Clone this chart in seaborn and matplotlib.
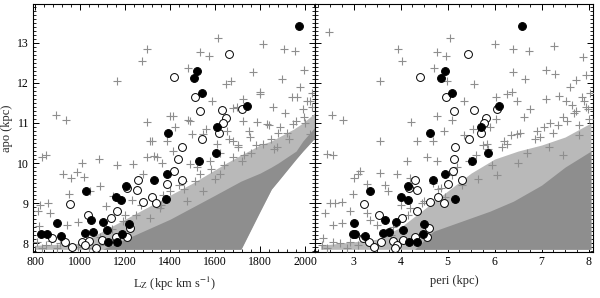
import matplotlib
matplotlib.use('Agg')

import numpy as np
import pandas as pd
import matplotlib.pyplot as plt
import seaborn as sns
from matplotlib.ticker import MultipleLocator

# stars: apo (kpc), Lz (kpc km/s), peri (kpc)
filled_apo = [13.42, 12.29, 12.11, 11.74, 11.43, 10.89, 10.76, 10.25, 10.05, 9.73,
              9.59, 9.44, 9.30, 9.15, 9.09, 9.10, 8.50, 8.57, 8.54, 8.49,
              8.24, 8.24, 8.18, 8.26, 8.28, 8.34, 8.23, 8.02, 8.04]
filled_lz = [1973, 1518, 1508, 1541, 1741, 1610, 1390, 1604, 1530, 1385,
             1329, 1204, 1027, 1160, 1181, 1380, 899, 1047, 1101, 1218,
             827, 855, 914, 1022, 1056, 1118, 1185, 1126, 1163]
filled_peri = [6.58, 4.94, 4.86, 5.09, 6.10, 5.71, 4.63, 5.87, 5.53, 4.95,
               4.68, 4.15, 3.36, 4.01, 4.16, 5.15, 3.01, 3.67, 3.90, 4.49,
               2.99, 3.03, 3.25, 3.62, 3.76, 4.06, 4.47, 4.17, 4.35]

open_apo = [12.73, 12.15, 11.66, 11.31, 11.33, 11.12, 11.00, 11.35, 10.75, 10.59,
            10.39, 10.10, 9.80, 9.59, 9.48, 9.59, 9.34, 9.38, 9.02, 9.15,
            9.00, 8.98, 8.81, 8.71, 8.63, 8.39, 8.13, 8.04, 7.91, 8.04,
            8.06, 7.96, 7.89, 8.08, 8.16, 8.16]
open_lz = [1662, 1418, 1511, 1533, 1632, 1647, 1634, 1718, 1619, 1544,
           1454, 1437, 1418, 1452, 1388, 1259, 1252, 1207, 1281, 1321,
           1336, 956, 1166, 1034, 1138, 1224, 876, 933, 965, 1010,
           1041, 1022, 1071, 1096, 1160, 1207]
open_peri = [5.43, 4.42, 4.97, 5.13, 5.57, 5.82, 5.77, 6.06, 5.72, 5.45,
             5.15, 5.13, 5.11, 5.31, 5.01, 4.31, 4.35, 4.17, 4.63, 4.79,
             4.93, 3.23, 4.35, 3.55, 4.03, 4.60, 3.20, 3.32, 3.43, 3.59,
             3.84, 3.92, 3.88, 4.05, 4.30, 4.56]

# background sample, sparse part (left panel)
bg_lz = [892, 936, 1166, 1277, 1299, 1615, 1533, 1575, 1479, 1815,
         1908, 1953, 1997, 1770, 1896, 1670, 1648, 1585, 1726, 1800,
         1412, 1296, 1481, 1681, 1318, 1385, 1496, 1978, 1859, 1963,
         849, 830, 926, 988, 959, 1018, 1084, 1163, 1296, 1329,
         1363, 1007, 1089, 1044, 952, 859, 822, 815, 867, 941,
         990, 819, 810, 830, 911, 896, 1230, 1115, 1148, 1281,
         1234, 850, 870, 950, 990, 1040, 1090, 1800, 1941, 2007,
         1696, 1726, 1785, 1830, 1889, 1948, 1993, 2022, 1489, 1548,
         1652, 1681, 1607, 1756, 1815, 1874, 1400, 1311, 1341, 1415,
         1489, 1578, 1681, 1533, 1622, 1459, 1548, 1400, 1474, 1356,
         1311, 1560, 1420, 1250, 1190, 1700, 1760, 1880, 1930, 2030,
         1750, 1840, 1910, 1990, 2030, 1620, 1700, 1520, 1440, 1370,
         1270, 1200, 1140, 1090, 1600, 1720, 1850, 1960, 2020, 1660,
         1580, 1640, 1730, 1780, 1860, 1920, 2000, 1460, 1510, 1360]
bg_lz_apo = [11.21, 11.08, 12.04, 12.55, 12.84, 13.11, 12.76, 12.67, 12.36, 12.98,
             12.84, 12.79, 12.33, 12.26, 12.09, 12.04, 11.98, 11.56, 11.60, 11.77,
             11.18, 11.02, 11.08, 11.38, 10.56, 10.56, 10.72, 11.89, 11.39, 11.64,
             10.20, 10.15, 9.72, 9.78, 9.63, 9.65, 10.10, 9.95, 10.14, 10.18,
             10.01, 10.01, 9.42, 9.30, 9.22, 9.01, 8.96, 8.80, 8.75, 8.46,
             8.52, 8.42, 8.04, 7.87, 8.00, 7.89, 9.09, 8.92, 9.17, 9.72,
             9.97, 7.95, 8.05, 7.92, 7.90, 7.88, 7.95, 11.73, 11.64, 11.56,
             11.39, 11.06, 11.02, 10.97, 10.89, 10.97, 11.14, 10.72, 11.06, 10.72,
             10.81, 10.56, 10.47, 10.64, 10.47, 10.39, 11.18, 10.56, 10.14, 10.30,
             9.97, 10.05, 10.14, 9.72, 9.72, 9.55, 9.30, 9.30, 9.05, 8.88,
             8.63, 10.85, 10.90, 8.70, 8.55, 10.45, 10.25, 10.75, 10.60, 11.40,
             10.80, 10.95, 11.25, 11.35, 11.75, 10.25, 10.40, 9.90, 9.45, 9.20,
             8.95, 8.70, 8.35, 8.15, 9.60, 10.05, 10.60, 11.05, 11.55, 10.60,
             9.85, 9.95, 10.20, 10.45, 10.35, 10.75, 11.00, 9.35, 9.55, 8.95]

# background sample, sparse part (right panel)
bg_peri = [2.47, 2.54, 2.77, 3.57, 3.94, 4.04, 5.06, 4.77, 4.97, 4.72,
           6.00, 6.40, 6.74, 7.26, 7.88, 6.40, 7.09, 7.29, 6.65, 5.57,
           4.99, 5.34, 6.04, 6.26, 6.37, 6.47, 4.77, 4.23, 5.09, 4.36,
           3.57, 4.70, 4.93, 5.34, 5.55, 5.91, 6.04, 6.62, 6.75, 7.10,
           7.38, 7.52, 7.73, 7.87, 7.94, 7.73, 7.45, 7.17, 6.96, 6.47,
           6.26, 5.83, 2.57, 2.43, 3.14, 3.10, 3.57, 3.00, 3.28, 3.67,
           3.92, 4.14, 4.56, 4.77, 4.21, 3.73, 2.99, 2.61, 2.50, 2.75,
           2.40, 2.93, 3.28, 3.36, 2.57, 2.75, 3.50, 2.36, 2.57, 2.71,
           2.93, 2.32, 2.43, 2.86, 4.21, 4.00, 4.68, 4.86, 7.60, 7.95,
           8.00, 7.80, 6.85, 7.25, 5.60, 6.15, 5.20, 3.80, 3.10, 4.45,
           7.70, 7.90, 8.02, 7.55, 7.05, 6.55, 6.20, 5.85, 5.45, 5.10,
           4.80, 4.50, 4.15, 3.85, 7.35, 6.90, 6.35, 5.75, 7.98, 7.65,
           5.95, 6.70, 7.15, 7.80, 5.30, 4.95, 6.05, 7.45, 6.50, 5.65]
bg_peri_apo = [13.28, 11.21, 11.08, 12.04, 12.84, 12.55, 13.11, 12.76, 12.67, 12.36,
               12.98, 12.84, 12.79, 12.92, 12.65, 12.26, 12.33, 12.21, 12.09, 11.98,
               12.04, 11.56, 11.64, 11.73, 11.77, 11.56, 11.18, 11.02, 11.08, 10.56,
               10.56, 10.56, 10.79, 10.69, 10.85, 10.89, 11.09, 11.14, 11.34, 11.60,
               11.67, 11.56, 12.06, 11.64, 11.39, 11.31, 11.14, 11.00, 10.66, 10.72,
               10.47, 10.47, 10.20, 10.22, 9.80, 9.72, 9.76, 9.63, 9.48, 9.46,
               9.72, 10.05, 10.14, 10.05, 9.63, 9.30, 9.22, 9.01, 9.01, 9.04,
               8.75, 8.80, 8.75, 8.59, 8.46, 8.50, 8.46, 8.12, 8.04, 8.00,
               8.04, 7.96, 7.87, 7.89, 8.88, 8.96, 9.50, 9.38, 11.90, 12.20,
               11.10, 10.95, 10.60, 10.75, 10.20, 10.40, 9.90, 8.20, 7.95, 9.00,
               11.25, 11.55, 11.75, 11.05, 10.90, 10.75, 10.55, 10.35, 10.05, 9.70,
               9.35, 9.05, 8.70, 8.40, 10.95, 10.80, 10.70, 10.45, 11.35, 11.45,
               9.95, 10.25, 10.40, 10.70, 9.45, 9.15, 9.70, 10.20, 10.00, 9.60]

# dense part of the background sample: outlines of the crowded area
halo_lz = [800, 1000, 1100, 1200, 1300, 1500, 1650, 1715, 1800, 1850, 1950, 1990, 2044]
halo_lz_lo = [7.85, 7.85, 7.85, 7.85, 7.85, 7.85, 7.85, 7.85, 8.80, 9.35, 10.05, 10.30, 10.63]
halo_lz_hi = [7.95, 8.00, 8.30, 8.60, 8.90, 9.50, 10.00, 10.20, 10.45, 10.55, 10.85, 11.00, 11.25]
core_lz = [1100, 1200, 1300, 1400, 1500, 1600, 1715, 1800, 1850, 1880, 1960, 1990, 2044]
core_lz_lo = [7.85, 7.85, 7.85, 7.85, 7.85, 7.85, 7.85, 8.80, 9.35, 9.55, 10.10, 10.30, 10.63]
core_lz_hi = [7.85, 8.10, 8.35, 8.60, 8.90, 9.20, 9.55, 9.75, 9.90, 10.00, 10.30, 10.55, 10.90]

halo_peri = [2.3, 3.5, 4.0, 4.5, 5.0, 5.5, 6.0, 6.5, 7.0, 7.5, 8.05]
halo_peri_hi = [7.95, 8.10, 8.40, 8.85, 9.30, 9.75, 10.10, 10.30, 10.45, 10.65, 11.00]
core_peri = [4.3, 4.7, 5.3, 5.9, 6.4, 7.0, 7.5, 8.05]
core_peri_hi = [7.85, 8.30, 8.55, 8.80, 9.05, 9.45, 9.90, 10.30]

GRAY = '#8e8e8e'
LIGHT = '#b9b9b9'

sns.set_theme(style='ticks')
plt.rcParams['font.family'] = ['Liberation Serif', 'DejaVu Serif']
plt.rcParams['mathtext.fontset'] = 'stix'

fig = plt.figure(figsize=(6.0, 2.98), dpi=100)
ax1 = fig.add_axes([0.055, 0.154, 0.47, 0.833])
ax2 = fig.add_axes([0.525, 0.154, 0.463, 0.833])


def draw_panel(ax, bx, by, fx, ox):
    sns.scatterplot(x=bx, y=by, marker='+', color=GRAY, s=40, linewidth=0.8,
                    ax=ax, zorder=3, legend=False)
    sns.scatterplot(x=ox, y=open_apo, marker='o', facecolor='white', edgecolor='black',
                    s=32, linewidth=0.7, ax=ax, zorder=4, legend=False)
    sns.scatterplot(x=fx, y=filled_apo, marker='o', color='black', edgecolor='black',
                    s=32, linewidth=0.7, ax=ax, zorder=5, legend=False)


ax1.fill_between(halo_lz, halo_lz_lo, halo_lz_hi, color=LIGHT, lw=0, zorder=1)
ax1.fill_between(core_lz, core_lz_lo, core_lz_hi, color=GRAY, lw=0, zorder=2)
draw_panel(ax1, bg_lz, bg_lz_apo, filled_lz, open_lz)

ax2.fill_between(halo_peri, 7.85, halo_peri_hi, color=LIGHT, lw=0, zorder=1)
ax2.fill_between(core_peri, 7.85, core_peri_hi, color=GRAY, lw=0, zorder=2)
draw_panel(ax2, bg_peri, bg_peri_apo, filled_peri, open_peri)

ax1.set_xlim(791, 2044)
ax2.set_xlim(2.18, 8.09)
for ax in (ax1, ax2):
    ax.set_ylim(7.78, 13.97)
    ax.yaxis.set_major_locator(MultipleLocator(1))
    ax.yaxis.set_minor_locator(MultipleLocator(0.1))
    ax.tick_params(which='both', direction='in', top=True, right=True,
                   labelsize=8.5, colors='black', pad=3)
    ax.tick_params(which='major', length=4, width=0.7)
    ax.tick_params(which='minor', length=2, width=0.6)
    for sp in ax.spines.values():
        sp.set_linewidth(0.8)
        sp.set_color('black')

ax1.xaxis.set_major_locator(MultipleLocator(200))
ax1.xaxis.set_minor_locator(MultipleLocator(40))
ax2.xaxis.set_major_locator(MultipleLocator(1))
ax2.xaxis.set_minor_locator(MultipleLocator(0.25))
ax2.tick_params(labelleft=False)
ax2.set_ylabel('')

ax1.set_ylabel('apo (kpc)', fontsize=9, labelpad=3)
ax1.set_xlabel(r'L$_{\rm Z}$ (kpc km s$^{-1}$)', fontsize=9, labelpad=5)
ax2.set_xlabel('peri (kpc)', fontsize=9, labelpad=5)

fig.savefig('out.png', dpi=100)
